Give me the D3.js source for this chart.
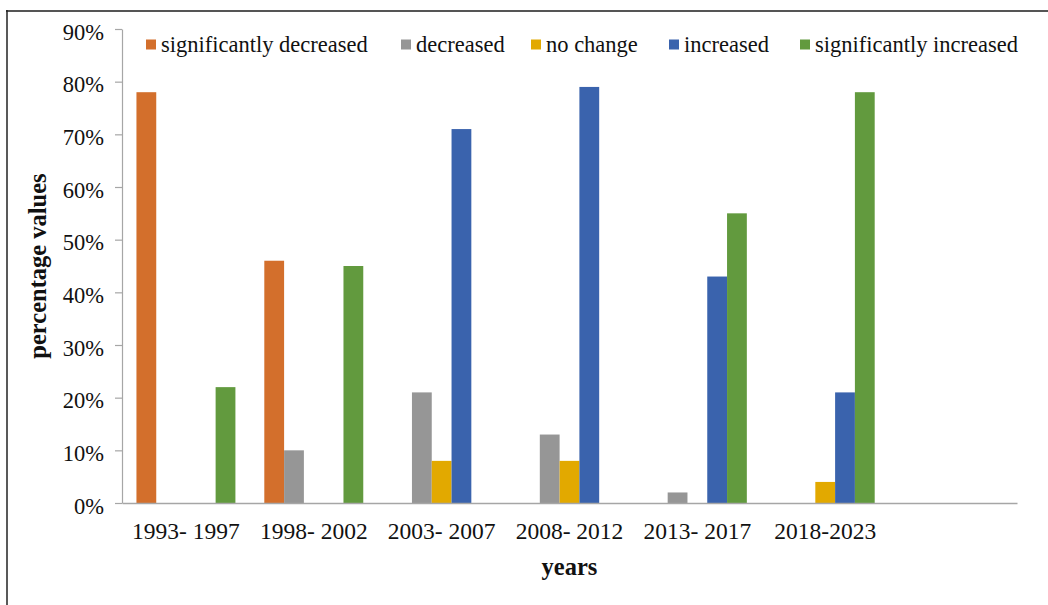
<!DOCTYPE html>
<html>
<head>
<meta charset="utf-8">
<script src="https://cdn.jsdelivr.net/npm/d3@7/dist/d3.min.js"></script>
<style>
  html, body { margin: 0; padding: 0; background: #fff; }
  svg { display: block; }
  text { font-family: "Liberation Serif", "Times New Roman", serif; fill: #111; }
</style>
</head>
<body>
<svg id="chart" width="1048" height="605"></svg>
<script>
// Period categories along the x axis
const categories = ["1993- 1997", "1998- 2002", "2003- 2007", "2008- 2012", "2013- 2017", "2018-2023"];

// Series names (legend order) and their percentage values per period
const seriesNames = ["significantly decreased", "decreased", "no change", "increased", "significantly increased"];
const sigDecreased = [78, 46, 0, 0, 0, 0];
const decreased    = [0, 10, 21, 13, 2, 0];
const noChange     = [0, 0, 8, 8, 0, 4];
const increased    = [0, 0, 71, 79, 43, 21];
const sigIncreased = [22, 45, 0, 0, 55, 78];

// Y axis tick values (percent)
const yTicks = [0, 10, 20, 30, 40, 50, 60, 70, 80, 90];

const seriesValues = [sigDecreased, decreased, noChange, increased, sigIncreased];
const colors = ["#D36F2C", "#969696", "#E2A900", "#3A63AD", "#629A3E"];

const svg = d3.select("#chart");

// Outer frame (top and left edges)
svg.append("line").attr("x1", 6).attr("x2", 1048).attr("y1", 11).attr("y2", 11)
  .attr("stroke", "#555").attr("stroke-width", 2);
svg.append("line").attr("x1", 7).attr("x2", 7).attr("y1", 10).attr("y2", 605)
  .attr("stroke", "#222").attr("stroke-width", 1.5);

const plotLeft = 122, plotRight = 1017, plotTop = 29, plotBottom = 503;

// One extra empty slot at the right end of the category axis
const slots = d3.range(categories.length + 1);
const x0 = d3.scaleBand().domain(slots).range([plotLeft, plotRight]).paddingInner(0).paddingOuter(0);
const x1 = d3.scaleBand().domain(d3.range(seriesNames.length))
  .range([0, x0.bandwidth()]).paddingInner(0).paddingOuter(0.73);
const y = d3.scaleLinear().domain([0, 90]).range([plotBottom, plotTop]);

// Bars
const groups = svg.append("g").selectAll("g")
  .data(categories)
  .join("g")
  .attr("transform", (d, i) => `translate(${x0(i)},0)`);

groups.selectAll("rect")
  .data((d, i) => seriesValues.map((vals, s) => ({ s, v: vals[i] })))
  .join("rect")
  .attr("x", d => x1(d.s))
  .attr("width", x1.bandwidth())
  .attr("y", d => y(d.v))
  .attr("height", d => y(0) - y(d.v))
  .attr("fill", d => colors[d.s]);

// Y axis
const yAxis = svg.append("g")
  .attr("transform", `translate(${plotLeft},0)`)
  .call(d3.axisLeft(y).tickValues(yTicks).tickSize(7).tickSizeOuter(0).tickFormat(d => d + "%"));
yAxis.select(".domain").attr("stroke", "#a6a6a6").attr("stroke-width", 1.2);
yAxis.selectAll(".tick line").attr("stroke", "#a6a6a6").attr("stroke-width", 1.2);
yAxis.selectAll(".tick text")
  .attr("x", -18).attr("dy", "10px")
  .style("font-size", "22.5px").style("font-family", "'Liberation Serif', serif").attr("fill", "#111");

// X axis
const xAxis = svg.append("g")
  .attr("transform", `translate(0,${plotBottom})`)
  .call(d3.axisBottom(x0).tickSize(0).tickSizeOuter(0).tickFormat(i => categories[i] || ""));
xAxis.select(".domain").attr("stroke", "#a6a6a6").attr("stroke-width", 1.5);
xAxis.selectAll(".tick text")
  .attr("y", 36).attr("dy", 0)
  .style("font-size", "23.5px").style("font-family", "'Liberation Serif', serif").attr("fill", "#111");

// Axis titles
svg.append("text")
  .attr("x", (plotLeft + plotRight) / 2).attr("y", 575)
  .attr("text-anchor", "middle")
  .style("font-size", "24.5px").style("font-weight", "bold")
  .text("years");

svg.append("text")
  .attr("transform", `translate(46,${(plotTop + plotBottom) / 2}) rotate(-90)`)
  .attr("text-anchor", "middle")
  .style("font-size", "24.5px").style("font-weight", "bold")
  .text("percentage values");

// Legend: swatch positions along the top row
const legendSwatchX = [146, 401, 531, 669, 800];
const legend = svg.append("g");
seriesNames.forEach((name, s) => {
  const lx = legendSwatchX[s];
  legend.append("rect")
    .attr("x", lx).attr("y", 39.5).attr("width", 10).attr("height", 10)
    .attr("fill", colors[s]);
  legend.append("text")
    .attr("x", lx + 15).attr("y", 51.5)
    .style("font-size", "22.5px")
    .text(name);
});
</script>
</body>
</html>
